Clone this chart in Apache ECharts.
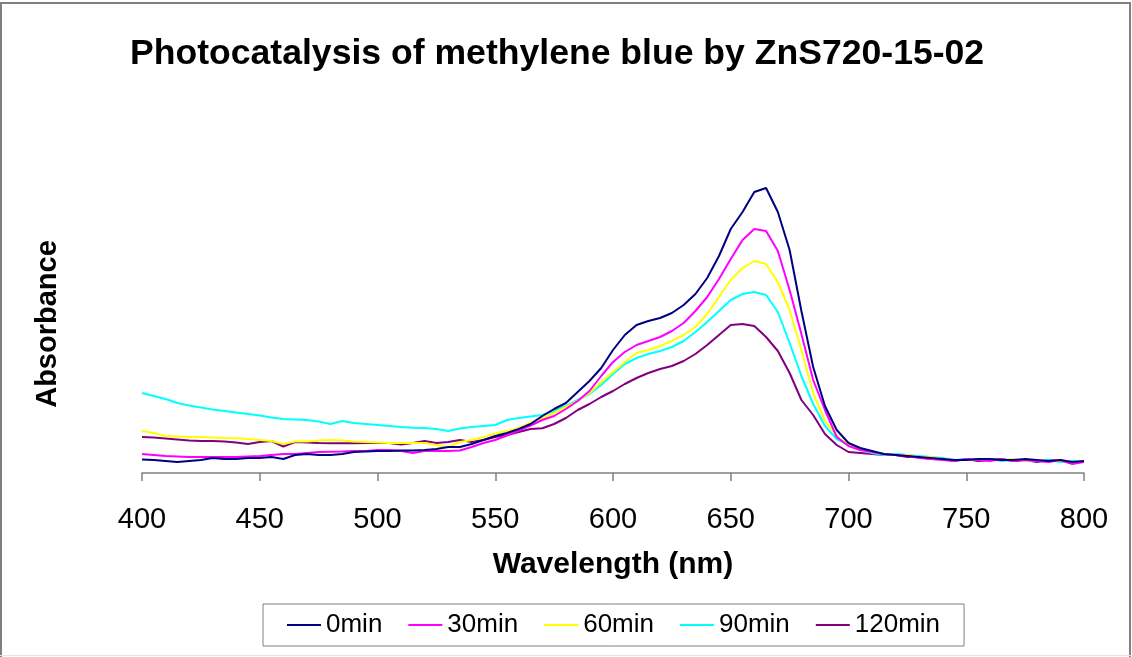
<!DOCTYPE html>
<html><head><meta charset="utf-8">
<script src="https://cdn.jsdelivr.net/npm/echarts@6/dist/echarts.min.js"></script>
<style>html,body{margin:0;padding:0;background:#fff}#c{width:1132px;height:657px}</style>
</head><body><div id="c"></div><script>
var wavelengths = [400,405,410,415,420,425,430,435,440,445,450,455,460,465,470,475,480,485,490,495,500,505,510,515,520,525,530,535,540,545,550,555,560,565,570,575,580,585,590,595,600,605,610,615,620,625,630,635,640,645,650,655,660,665,670,675,680,685,690,695,700,705,710,715,720,725,730,735,740,745,750,755,760,765,770,775,780,785,790,795,800];
var xTicks = [400,450,500,550,600,650,700,750,800];
var seriesNames = ['0min','30min','60min','90min','120min'];
var min0 = [0.135,0.13,0.12,0.11,0.12,0.13,0.15,0.14,0.14,0.15,
 0.15,0.16,0.14,0.18,0.19,0.18,0.18,0.19,0.21,0.215,
 0.22,0.22,0.225,0.225,0.23,0.24,0.26,0.26,0.29,0.33,
 0.37,0.40,0.44,0.49,0.57,0.64,0.70,0.81,0.92,1.05,
 1.23,1.38,1.48,1.52,1.55,1.60,1.68,1.79,1.95,2.17,
 2.44,2.61,2.81,2.85,2.61,2.23,1.62,1.06,0.67,0.43,
 0.30,0.25,0.22,0.19,0.18,0.17,0.16,0.15,0.14,0.13,
 0.13,0.14,0.14,0.13,0.13,0.14,0.13,0.12,0.13,0.11,
 0.12];
var min30 = [0.19,0.18,0.17,0.165,0.16,0.16,0.16,0.16,0.16,0.165,
 0.17,0.18,0.19,0.19,0.20,0.21,0.213,0.215,0.22,0.22,
 0.23,0.23,0.22,0.20,0.22,0.22,0.22,0.225,0.26,0.30,
 0.33,0.375,0.425,0.475,0.53,0.57,0.64,0.72,0.82,0.97,
 1.11,1.21,1.28,1.32,1.36,1.42,1.50,1.62,1.76,1.94,
 2.14,2.33,2.44,2.42,2.22,1.83,1.39,0.93,0.63,0.36,
 0.27,0.23,0.21,0.19,0.18,0.17,0.15,0.14,0.13,0.12,
 0.14,0.13,0.12,0.14,0.12,0.13,0.12,0.11,0.13,0.09,
 0.11];
var min60 = [0.42,0.40,0.37,0.365,0.36,0.36,0.355,0.35,0.347,0.34,
 0.33,0.32,0.29,0.315,0.315,0.325,0.33,0.325,0.315,0.31,
 0.305,0.30,0.30,0.30,0.30,0.28,0.26,0.31,0.33,0.36,
 0.395,0.42,0.45,0.50,0.545,0.60,0.66,0.72,0.80,0.91,
 1.01,1.11,1.20,1.23,1.27,1.32,1.38,1.46,1.59,1.76,
 1.93,2.05,2.12,2.09,1.91,1.63,1.23,0.80,0.52,0.37,
 0.28,0.23,0.21,0.19,0.18,0.18,0.16,0.16,0.14,0.13,
 0.13,0.14,0.13,0.13,0.14,0.12,0.13,0.12,0.12,0.11,
 0.12];
var min90 = [0.80,0.77,0.74,0.70,0.675,0.655,0.635,0.62,0.605,0.59,
 0.575,0.555,0.54,0.535,0.53,0.515,0.49,0.52,0.50,0.49,
 0.48,0.47,0.46,0.453,0.45,0.44,0.42,0.445,0.46,0.47,
 0.48,0.53,0.55,0.565,0.58,0.62,0.67,0.73,0.79,0.88,
 0.99,1.09,1.15,1.19,1.22,1.26,1.32,1.41,1.51,1.62,
 1.73,1.79,1.81,1.78,1.61,1.30,0.97,0.69,0.47,0.34,
 0.28,0.23,0.20,0.18,0.19,0.18,0.17,0.16,0.15,0.13,
 0.14,0.13,0.14,0.12,0.13,0.13,0.12,0.13,0.11,0.12,
 0.12];
var min120 = [0.36,0.355,0.345,0.335,0.325,0.32,0.32,0.315,0.305,0.29,
 0.31,0.32,0.265,0.31,0.305,0.30,0.297,0.297,0.297,0.30,
 0.30,0.30,0.285,0.30,0.32,0.30,0.31,0.33,0.31,0.33,
 0.36,0.38,0.41,0.44,0.447,0.49,0.55,0.63,0.69,0.76,
 0.82,0.89,0.95,1.00,1.04,1.07,1.12,1.19,1.28,1.38,
 1.48,1.49,1.47,1.36,1.22,1.00,0.73,0.58,0.39,0.28,
 0.21,0.20,0.19,0.18,0.18,0.16,0.16,0.14,0.14,0.12,
 0.14,0.12,0.13,0.14,0.12,0.13,0.11,0.13,0.12,0.10,
 0.12];
var colors = ['#000080','#FF00FF','#FFFF00','#00FFFF','#800080'];
var allValues = [min0, min30, min60, min90, min120];

var FONT = '"Liberation Sans", Arial, sans-serif';
var chart = echarts.init(document.getElementById('c'), null, {renderer:'canvas'});
var series = allValues.map(function(vals, k){
  return {
    name: seriesNames[k], type:'line', symbol:'none', showSymbol:false,
    color: colors[k],
    lineStyle:{width:2, color: colors[k]},
    data: wavelengths.map(function(w,i){ return [w, vals[i]]; }),
    animation:false, z: 10 - k
  };
});
chart.setOption({
  backgroundColor:'#fff',
  animation:false,
  title:{ text:'Photocatalysis of methylene blue by ZnS720-15-02', left:130, top:36, padding:0,
    textStyle:{fontFamily:FONT, fontSize:35.6, fontWeight:'bold', color:'#000'} },
  grid:{ left:142, right:48, top:175, bottom:184 },
  xAxis:{ type:'value', min:400, max:800, interval:50,
    name:'Wavelength (nm)', nameLocation:'middle', nameGap:77,
    nameTextStyle:{fontFamily:FONT, fontSize:30, fontWeight:'bold', color:'#000'},
    axisLine:{show:true, lineStyle:{color:'#808080', width:1.5}},
    axisTick:{show:true, length:8, lineStyle:{color:'#808080', width:1.5}},
    axisLabel:{margin:32, fontFamily:FONT, fontSize:29, color:'#000',
      formatter:function(v){ return xTicks.indexOf(v) >= 0 ? String(v) : ''; }},
    splitLine:{show:false} },
  yAxis:{ type:'value', min:0, max:2.98,
    name:'Absorbance', nameLocation:'middle', nameGap:80,
    nameTextStyle:{fontFamily:FONT, fontSize:29, fontWeight:'bold', color:'#000'},
    axisLine:{show:false}, axisTick:{show:false}, axisLabel:{show:false}, splitLine:{show:false} },
  legend:{ data:seriesNames, left:263, top:604, orient:'horizontal',
    padding:[8,24,8,24], itemGap:26, itemWidth:34, itemHeight:2, icon:'rect',
    borderColor:'#808080', borderWidth:1, backgroundColor:'#fff',
    textStyle:{fontFamily:FONT, fontSize:26, color:'#000'} },
  graphic:[
    {type:'polyline', shape:{points:[[1,657],[1,3],[1130,3],[1130,657]]}, style:{stroke:'#808080', lineWidth:2, fill:null}, silent:true},
    {type:'line', shape:{x1:0,y1:655.5,x2:1132,y2:655.5}, style:{stroke:'#e4e4e4', lineWidth:1}, silent:true}
  ],
  series: series
});
</script></body></html>
